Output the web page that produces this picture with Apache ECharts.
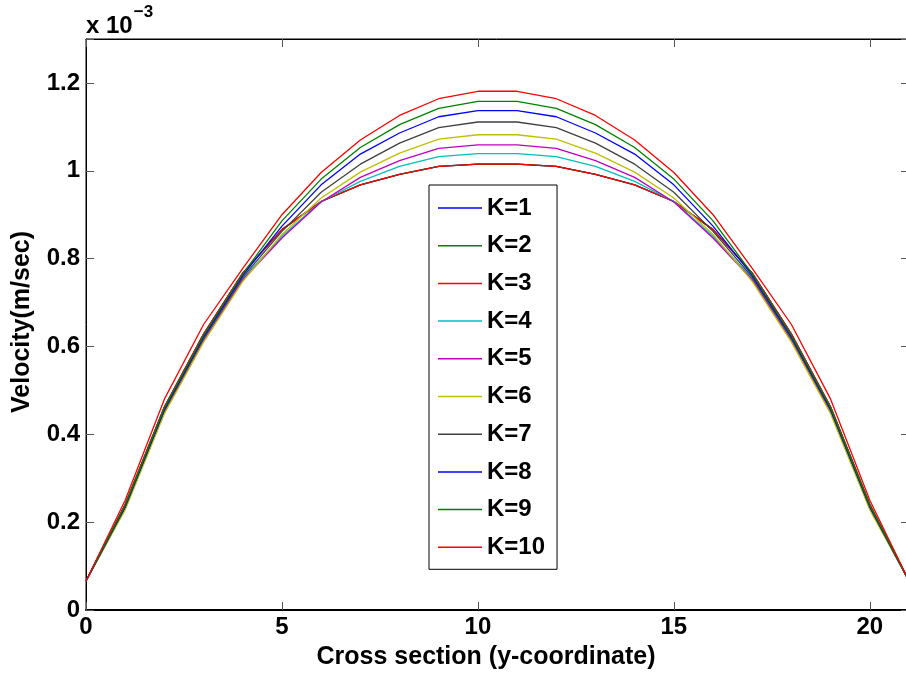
<!DOCTYPE html>
<html>
<head>
<meta charset="utf-8">
<script src="https://cdn.jsdelivr.net/npm/echarts@6/dist/echarts.min.js"></script>
<style>
  html, body { margin: 0; padding: 0; background: #fff; }
  #chart { width: 906px; height: 677px; }
</style>
</head>
<body>
<div id="chart"></div>
<script>
// cross section positions (y-coordinate)
var xs = [0, 1, 2, 3, 4, 5, 6, 7, 8, 9, 10, 11, 12, 13, 14, 15, 16, 17, 18, 19, 20, 21];

// velocity, in units of 1e-3 m/sec
var k1 = [0.066, 0.240, 0.462, 0.628, 0.767, 0.866, 0.930, 0.968, 0.992, 1.010, 1.015, 1.015, 1.010, 0.992, 0.968, 0.930, 0.866, 0.767, 0.628, 0.462, 0.240, 0.066];
var k2 = [0.066, 0.240, 0.462, 0.628, 0.767, 0.866, 0.930, 0.968, 0.992, 1.010, 1.015, 1.015, 1.010, 0.992, 0.968, 0.930, 0.866, 0.767, 0.628, 0.462, 0.240, 0.066];
var k3 = [0.066, 0.240, 0.462, 0.628, 0.767, 0.866, 0.930, 0.968, 0.992, 1.010, 1.015, 1.015, 1.010, 0.992, 0.968, 0.930, 0.866, 0.767, 0.628, 0.462, 0.240, 0.066];
var k4 = [0.066, 0.232, 0.452, 0.616, 0.755, 0.851, 0.930, 0.976, 1.010, 1.032, 1.039, 1.039, 1.032, 1.010, 0.976, 0.930, 0.851, 0.755, 0.616, 0.452, 0.232, 0.066];
var k5 = [0.066, 0.231, 0.450, 0.613, 0.752, 0.847, 0.929, 0.985, 1.023, 1.051, 1.059, 1.059, 1.051, 1.023, 0.985, 0.929, 0.847, 0.752, 0.613, 0.450, 0.231, 0.066];
var k6 = [0.066, 0.228, 0.447, 0.610, 0.748, 0.855, 0.938, 0.997, 1.040, 1.072, 1.082, 1.082, 1.072, 1.040, 0.997, 0.938, 0.855, 0.748, 0.610, 0.447, 0.228, 0.066];
var k7 = [0.066, 0.234, 0.455, 0.619, 0.758, 0.862, 0.951, 1.015, 1.063, 1.098, 1.111, 1.111, 1.098, 1.063, 1.015, 0.951, 0.862, 0.758, 0.619, 0.455, 0.234, 0.066];
var k8 = [0.066, 0.236, 0.457, 0.622, 0.762, 0.874, 0.968, 1.038, 1.086, 1.123, 1.137, 1.137, 1.123, 1.086, 1.038, 0.968, 0.874, 0.762, 0.622, 0.457, 0.236, 0.066];
var k9 = [0.066, 0.238, 0.460, 0.625, 0.765, 0.886, 0.981, 1.053, 1.105, 1.142, 1.158, 1.158, 1.142, 1.105, 1.053, 0.981, 0.886, 0.765, 0.625, 0.460, 0.238, 0.066];
var k10 = [0.066, 0.250, 0.480, 0.650, 0.778, 0.900, 0.996, 1.070, 1.126, 1.164, 1.181, 1.181, 1.164, 1.126, 1.070, 0.996, 0.900, 0.778, 0.650, 0.480, 0.250, 0.066];

var seriesNames = ['K=1', 'K=2', 'K=3', 'K=4', 'K=5', 'K=6', 'K=7', 'K=8', 'K=9', 'K=10'];
var seriesData = [k1, k2, k3, k4, k5, k6, k7, k8, k9, k10];
// matlab default line colour order
var colors = ['#0000ff', '#008000', '#ff0000', '#00bfbf', '#bf00bf', '#bfbf00', '#404040', '#0000ff', '#008000', '#ff0000'];

var xTicks = [0, 5, 10, 15, 20];
var xTickLabels = ['0', '5', '10', '15', '20'];
var yTicks = [0, 0.2, 0.4, 0.6, 0.8, 1, 1.2];
var yTickLabels = ['0', '0.2', '0.4', '0.6', '0.8', '1', '1.2'];

var FONT = '"Liberation Sans", Arial, Helvetica, sans-serif';

function pickLabel(ticks, labels) {
	return function (v) {
		for (var i = 0; i < ticks.length; i++) {
			if (Math.abs(ticks[i] - v) < 1e-6) return labels[i];
		}
		return '';
	};
}

var chart = echarts.init(document.getElementById('chart'));

var series = seriesNames.map(function (name, i) {
	return {
		name: name,
		type: 'line',
		xAxisIndex: 0,
		yAxisIndex: 0,
		showSymbol: false,
		symbol: 'none',
		animation: false,
		lineStyle: { width: 1.3, color: colors[i] },
		itemStyle: { color: colors[i] },
		data: xs.map(function (x, j) { return [x, seriesData[i][j]]; })
	};
});

var tickStyle = { show: true, inside: true, length: 8, lineStyle: { color: '#555', width: 1 } };
var nameStyle = { fontFamily: FONT, fontWeight: 'bold', fontSize: 25, fill: '#000' };

var option = {
	backgroundColor: '#fff',
	animation: false,
	grid: {
		left: 86,
		top: 39,
		width: 823,
		height: 571,
		outerBoundsMode: 'none',
		containLabel: false,
		show: true,
		borderColor: '#000',
		borderWidth: 1,
		backgroundColor: '#fff'
	},
	graphic: [{
		type: 'text',
		left: 86,
		top: 4,
		style: {
			text: '{b|x 10}{s|−3}',
			rich: {
				b: { fontFamily: FONT, fontWeight: 'bold', fontSize: 24, lineHeight: 34, verticalAlign: 'bottom', fill: '#000' },
				s: { fontFamily: FONT, fontWeight: 'bold', fontSize: 17, lineHeight: 34, verticalAlign: 'top', padding: [0, 0, 14, 1], fill: '#000' }
			}
		}
	}, {
		type: 'text',
		x: 486,
		y: 657,
		style: Object.assign({ text: 'Cross section (y-coordinate)', align: 'center', verticalAlign: 'middle' }, nameStyle)
	}, {
		type: 'text',
		x: 22,
		y: 322,
		rotation: Math.PI / 2,
		style: Object.assign({ text: 'Velocity(m/sec)', align: 'center', verticalAlign: 'middle' }, nameStyle)
	}],
	legend: {
		orient: 'vertical',
		left: 429,
		top: 185,
		data: seriesNames,
		icon: 'rect',
		itemWidth: 44,
		itemHeight: 1.5,
		itemGap: 13.7,
		padding: [11, 12, 10, 9],
		borderColor: '#000',
		borderWidth: 1,
		backgroundColor: '#fff',
		selectedMode: false,
		textStyle: { fontFamily: FONT, fontWeight: 'bold', fontSize: 24, lineHeight: 24, color: '#000' }
	},
	xAxis: [{
		type: 'value',
		min: 0,
		max: 21,
		interval: 5,
		position: 'bottom',
		axisLine: { show: true, onZero: false, lineStyle: { color: '#000', width: 2 } },
		axisTick: tickStyle,
		splitLine: { show: false },
		axisLabel: { margin: 5, fontFamily: FONT, fontWeight: 'bold', fontSize: 24, color: '#000', formatter: pickLabel(xTicks, xTickLabels) }
	}, {
		type: 'value',
		min: 0,
		max: 21,
		interval: 5,
		position: 'top',
		axisLine: { show: true, onZero: false, lineStyle: { color: '#000', width: 1 } },
		axisTick: tickStyle,
		splitLine: { show: false },
		axisLabel: { show: false }
	}],
	yAxis: [{
		type: 'value',
		min: 0,
		max: 1.3,
		interval: 0.2,
		position: 'left',
		axisLine: { show: true, onZero: false, lineStyle: { color: '#000', width: 1 } },
		axisTick: tickStyle,
		splitLine: { show: false },
		axisLabel: { margin: 6, fontFamily: FONT, fontWeight: 'bold', fontSize: 24, color: '#000', formatter: pickLabel(yTicks, yTickLabels) }
	}, {
		type: 'value',
		min: 0,
		max: 1.3,
		interval: 0.2,
		position: 'right',
		axisLine: { show: true, onZero: false, lineStyle: { color: '#000', width: 1 } },
		axisTick: tickStyle,
		splitLine: { show: false },
		axisLabel: { show: false }
	}],
	series: series
};

chart.setOption(option);
</script>
</body>
</html>
